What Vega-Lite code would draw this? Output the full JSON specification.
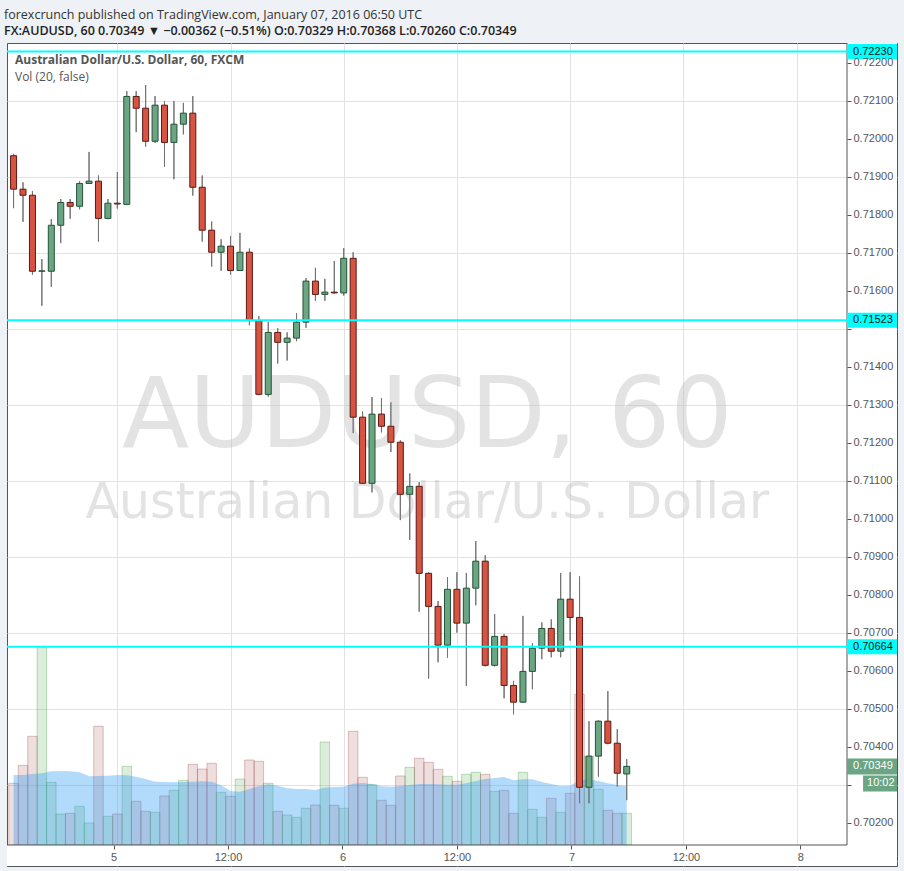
{
  "$schema": "https://vega.github.io/schema/vega-lite/v6.json",
  "width": 890,
  "height": 823,
  "autosize": {"type": "none"},
  "padding": {"left": 7, "top": 43, "right": 7, "bottom": 5},
  "background": "#eef1f5",
  "title": {
    "text": "forexcrunch published on TradingView.com, January 07, 2016 06:50 UTC",
    "subtitle": "FX:AUDUSD, 60  0.70349 ▼ −0.00362 (−0.51%)  O:0.70329  H:0.70368  L:0.70260  C:0.70349",
    "anchor": "start", "frame": "group", "offset": 5, "dx": -3,
    "font": "Open Sans", "fontSize": 12.5, "fontWeight": "normal", "color": "#333333",
    "subtitleFont": "Open Sans", "subtitleFontSize": 12.5, "subtitleFontWeight": 600, "subtitleColor": "#222222", "subtitlePadding": 4
  },
  "config": {"view": {"fill": "white", "stroke": "#555555", "strokeWidth": 1}},
  "datasets": {
    "candles": [
      {"t":"2016-01-04T13:00:00Z","o":0.71956,"h":0.71961,"l":0.71818,"c":0.71868,"v":61.7,"ma":70},
      {"t":"2016-01-04T14:00:00Z","o":0.71868,"h":0.71886,"l":0.71782,"c":0.71852,"v":79.7,"ma":70},
      {"t":"2016-01-04T15:00:00Z","o":0.71852,"h":0.71863,"l":0.71643,"c":0.71652,"v":108.7,"ma":71},
      {"t":"2016-01-04T16:00:00Z","o":0.71652,"h":0.71684,"l":0.71561,"c":0.71653,"v":197.3,"ma":71.7},
      {"t":"2016-01-04T17:00:00Z","o":0.71652,"h":0.71789,"l":0.71611,"c":0.71773,"v":62.7,"ma":73.7},
      {"t":"2016-01-04T18:00:00Z","o":0.71773,"h":0.71842,"l":0.71726,"c":0.71833,"v":31,"ma":74},
      {"t":"2016-01-04T19:00:00Z","o":0.71833,"h":0.71842,"l":0.7179,"c":0.71823,"v":31.7,"ma":73.7},
      {"t":"2016-01-04T20:00:00Z","o":0.71823,"h":0.71889,"l":0.71815,"c":0.71883,"v":38.7,"ma":72.7},
      {"t":"2016-01-04T21:00:00Z","o":0.71883,"h":0.71966,"l":0.71883,"c":0.71889,"v":22,"ma":68.7},
      {"t":"2016-01-04T22:00:00Z","o":0.71889,"h":0.71904,"l":0.7173,"c":0.71791,"v":118.7,"ma":69},
      {"t":"2016-01-04T23:00:00Z","o":0.71791,"h":0.71842,"l":0.71789,"c":0.71831,"v":28.7,"ma":69.3},
      {"t":"2016-01-05T00:00:00Z","o":0.71831,"h":0.71913,"l":0.71817,"c":0.71829,"v":31,"ma":70},
      {"t":"2016-01-05T01:00:00Z","o":0.71828,"h":0.72126,"l":0.71826,"c":0.72112,"v":78.7,"ma":69.7},
      {"t":"2016-01-05T02:00:00Z","o":0.72112,"h":0.72126,"l":0.72018,"c":0.72081,"v":43.7,"ma":68.3},
      {"t":"2016-01-05T03:00:00Z","o":0.72081,"h":0.72142,"l":0.7198,"c":0.71994,"v":33.7,"ma":66},
      {"t":"2016-01-05T04:00:00Z","o":0.71994,"h":0.72113,"l":0.7199,"c":0.72089,"v":32.7,"ma":63.3},
      {"t":"2016-01-05T05:00:00Z","o":0.72089,"h":0.721,"l":0.71927,"c":0.71991,"v":49,"ma":63},
      {"t":"2016-01-05T06:00:00Z","o":0.71991,"h":0.721,"l":0.71894,"c":0.72039,"v":54.7,"ma":62.7},
      {"t":"2016-01-05T07:00:00Z","o":0.72039,"h":0.72095,"l":0.72012,"c":0.72068,"v":64.7,"ma":63},
      {"t":"2016-01-05T08:00:00Z","o":0.72068,"h":0.72113,"l":0.71851,"c":0.71873,"v":80.7,"ma":63.3},
      {"t":"2016-01-05T09:00:00Z","o":0.71873,"h":0.71904,"l":0.7173,"c":0.7176,"v":76,"ma":63.7},
      {"t":"2016-01-05T10:00:00Z","o":0.7176,"h":0.71783,"l":0.71664,"c":0.71702,"v":81.7,"ma":63.3},
      {"t":"2016-01-05T11:00:00Z","o":0.71702,"h":0.71736,"l":0.71653,"c":0.71718,"v":52.7,"ma":59.7},
      {"t":"2016-01-05T12:00:00Z","o":0.71718,"h":0.71745,"l":0.71643,"c":0.71654,"v":48.7,"ma":54},
      {"t":"2016-01-05T13:00:00Z","o":0.71654,"h":0.71753,"l":0.71654,"c":0.71702,"v":66,"ma":53.3},
      {"t":"2016-01-05T14:00:00Z","o":0.71702,"h":0.71712,"l":0.7151,"c":0.71522,"v":85,"ma":56},
      {"t":"2016-01-05T15:00:00Z","o":0.71522,"h":0.71534,"l":0.71326,"c":0.71328,"v":83.7,"ma":58.7},
      {"t":"2016-01-05T16:00:00Z","o":0.71328,"h":0.71519,"l":0.71322,"c":0.71491,"v":61.7,"ma":60.7},
      {"t":"2016-01-05T17:00:00Z","o":0.71491,"h":0.71502,"l":0.71409,"c":0.71465,"v":33.7,"ma":59.3},
      {"t":"2016-01-05T18:00:00Z","o":0.71465,"h":0.71491,"l":0.71417,"c":0.71476,"v":30,"ma":56.7},
      {"t":"2016-01-05T19:00:00Z","o":0.71476,"h":0.71542,"l":0.71468,"c":0.71518,"v":27.7,"ma":56},
      {"t":"2016-01-05T20:00:00Z","o":0.71518,"h":0.71634,"l":0.71503,"c":0.71626,"v":36.7,"ma":56},
      {"t":"2016-01-05T21:00:00Z","o":0.71626,"h":0.71661,"l":0.71574,"c":0.71591,"v":40,"ma":55},
      {"t":"2016-01-05T22:00:00Z","o":0.71591,"h":0.71632,"l":0.71574,"c":0.71597,"v":103,"ma":57.5},
      {"t":"2016-01-05T23:00:00Z","o":0.71597,"h":0.71679,"l":0.71593,"c":0.71595,"v":39.7,"ma":58},
      {"t":"2016-01-06T00:00:00Z","o":0.71595,"h":0.71713,"l":0.71588,"c":0.71686,"v":36.7,"ma":58.3},
      {"t":"2016-01-06T01:00:00Z","o":0.71686,"h":0.71702,"l":0.71226,"c":0.71268,"v":113.7,"ma":61.3},
      {"t":"2016-01-06T02:00:00Z","o":0.71268,"h":0.71283,"l":0.71092,"c":0.71094,"v":67.7,"ma":62},
      {"t":"2016-01-06T03:00:00Z","o":0.71094,"h":0.71321,"l":0.7107,"c":0.71276,"v":60.3,"ma":61},
      {"t":"2016-01-06T04:00:00Z","o":0.71276,"h":0.71318,"l":0.71228,"c":0.71244,"v":44.7,"ma":58.7},
      {"t":"2016-01-06T05:00:00Z","o":0.71244,"h":0.71307,"l":0.71176,"c":0.71202,"v":39.7,"ma":58.3},
      {"t":"2016-01-06T06:00:00Z","o":0.71202,"h":0.71207,"l":0.70997,"c":0.71065,"v":69,"ma":59},
      {"t":"2016-01-06T07:00:00Z","o":0.71065,"h":0.7112,"l":0.70945,"c":0.71086,"v":77.7,"ma":60},
      {"t":"2016-01-06T08:00:00Z","o":0.71086,"h":0.71097,"l":0.70756,"c":0.70857,"v":86.7,"ma":61},
      {"t":"2016-01-06T09:00:00Z","o":0.70857,"h":0.7086,"l":0.7058,"c":0.7077,"v":82.7,"ma":61},
      {"t":"2016-01-06T10:00:00Z","o":0.7077,"h":0.70784,"l":0.70623,"c":0.70668,"v":75.7,"ma":60.7},
      {"t":"2016-01-06T11:00:00Z","o":0.70668,"h":0.70847,"l":0.70635,"c":0.70815,"v":68.7,"ma":60.3},
      {"t":"2016-01-06T12:00:00Z","o":0.70815,"h":0.7086,"l":0.70701,"c":0.70726,"v":63.7,"ma":60.3},
      {"t":"2016-01-06T13:00:00Z","o":0.70726,"h":0.70858,"l":0.70561,"c":0.70818,"v":70.7,"ma":61.7},
      {"t":"2016-01-06T14:00:00Z","o":0.70818,"h":0.70942,"l":0.70773,"c":0.70889,"v":72.7,"ma":64},
      {"t":"2016-01-06T15:00:00Z","o":0.70889,"h":0.70905,"l":0.70612,"c":0.70615,"v":70.7,"ma":66},
      {"t":"2016-01-06T16:00:00Z","o":0.70615,"h":0.7075,"l":0.70612,"c":0.70691,"v":53.7,"ma":67},
      {"t":"2016-01-06T17:00:00Z","o":0.70691,"h":0.70697,"l":0.70528,"c":0.70562,"v":54.7,"ma":68},
      {"t":"2016-01-06T18:00:00Z","o":0.70562,"h":0.70574,"l":0.70486,"c":0.70518,"v":31.7,"ma":64.7},
      {"t":"2016-01-06T19:00:00Z","o":0.70518,"h":0.70745,"l":0.70516,"c":0.70599,"v":72.7,"ma":65.7},
      {"t":"2016-01-06T20:00:00Z","o":0.70599,"h":0.70673,"l":0.70552,"c":0.7066,"v":35.7,"ma":65.7},
      {"t":"2016-01-06T21:00:00Z","o":0.7066,"h":0.70728,"l":0.70631,"c":0.70712,"v":27.7,"ma":63},
      {"t":"2016-01-06T22:00:00Z","o":0.70712,"h":0.70736,"l":0.70636,"c":0.70652,"v":46.7,"ma":61},
      {"t":"2016-01-06T23:00:00Z","o":0.70652,"h":0.70858,"l":0.70636,"c":0.70789,"v":32.7,"ma":59},
      {"t":"2016-01-07T00:00:00Z","o":0.70789,"h":0.7086,"l":0.7068,"c":0.70741,"v":51.7,"ma":59.3},
      {"t":"2016-01-07T01:00:00Z","o":0.70741,"h":0.70849,"l":0.70252,"c":0.70294,"v":150.7,"ma":64.7},
      {"t":"2016-01-07T02:00:00Z","o":0.70294,"h":0.70468,"l":0.70252,"c":0.70376,"v":88.7,"ma":65.7},
      {"t":"2016-01-07T03:00:00Z","o":0.70376,"h":0.7047,"l":0.70322,"c":0.70468,"v":55.7,"ma":64},
      {"t":"2016-01-07T04:00:00Z","o":0.70468,"h":0.70547,"l":0.70407,"c":0.7041,"v":34.7,"ma":61.7},
      {"t":"2016-01-07T05:00:00Z","o":0.7041,"h":0.70447,"l":0.70296,"c":0.70331,"v":31.7,"ma":60},
      {"t":"2016-01-07T06:00:00Z","o":0.70329,"h":0.70368,"l":0.7026,"c":0.70349,"v":31.7,"ma":59}
    ],
    "levels": [{"price": 0.7223}, {"price": 0.71523}, {"price": 0.70664}],
    "tag": [{"price": 0.70349, "countdown": "10:02"}]
  },
  "resolve": {"scale": {"x": "independent", "y": "independent"}},
  "layer": [
    {
      "data": {"name": "candles"},
      "layer": [
        {
          "mark": {"type": "bar", "width": 9.5, "strokeWidth": 1, "clip": true},
          "encoding": {
            "x": {"field": "t", "type": "temporal", "scale": {"type": "utc", "domain": [{"year":2016,"month":1,"date":4,"hours":12,"minutes":50,"utc":true},{"year":2016,"month":1,"date":8,"hours":10,"minutes":7,"seconds":24,"utc":true}]}, "axis": null},
            "y": {"field": "v", "type": "quantitative", "scale": {"domain": [-21, 802], "nice": false, "zero": false}, "axis": null},
            "y2": {"datum": 0},
            "fill": {"condition": {"test": "datum.c >= datum.o", "value": "#3c9a3c"}, "value": "#a04848"},
            "stroke": {"condition": {"test": "datum.c >= datum.o", "value": "#3c9a3c"}, "value": "#a04848"},
            "fillOpacity": {"value": 0.18},
            "strokeOpacity": {"value": 0.32}
          }
        },
        {
          "mark": {"type": "area", "color": "#2196f3", "opacity": 0.35, "clip": true},
          "encoding": {
            "x": {"field": "t", "type": "temporal", "scale": {"type": "utc", "domain": [{"year":2016,"month":1,"date":4,"hours":12,"minutes":50,"utc":true},{"year":2016,"month":1,"date":8,"hours":10,"minutes":7,"seconds":24,"utc":true}]}, "axis": null},
            "y": {"field": "ma", "type": "quantitative", "scale": {"domain": [-21, 802], "nice": false, "zero": false}, "axis": null},
            "y2": {"datum": 0}
          }
        }
      ]
    },
    {
      "data": {"name": "candles"},
      "layer": [
        {
          "mark": {"type": "rule", "color": "#737375", "strokeWidth": 1, "clip": true},
          "encoding": {
            "x": {"field": "t", "type": "temporal", "scale": {"type": "utc", "domain": [{"year":2016,"month":1,"date":4,"hours":12,"minutes":50,"utc":true},{"year":2016,"month":1,"date":8,"hours":10,"minutes":7,"seconds":24,"utc":true}]},
              "axis": {"orient": "top", "grid": true, "gridColor": "#e2e2e2", "labels": false, "ticks": false, "domain": false, "title": null, "values": [{"year":2016,"month":1,"date":5,"hours":0,"utc":true},{"year":2016,"month":1,"date":5,"hours":12,"utc":true},{"year":2016,"month":1,"date":6,"hours":0,"utc":true},{"year":2016,"month":1,"date":6,"hours":12,"utc":true},{"year":2016,"month":1,"date":7,"hours":0,"utc":true},{"year":2016,"month":1,"date":7,"hours":12,"utc":true},{"year":2016,"month":1,"date":8,"hours":0,"utc":true}], "zindex": 0}},
            "y": {"field": "l", "type": "quantitative", "scale": {"domain": [0.7008684, 0.7225263], "nice": false, "zero": false},
              "axis": {"orient": "left", "grid": true, "gridColor": "#e2e2e2", "labels": false, "ticks": false, "domain": false, "title": null, "values": [0.701,0.702,0.703,0.704,0.705,0.706,0.707,0.708,0.709,0.71,0.711,0.712,0.713,0.714,0.715,0.716,0.717,0.718,0.719,0.72,0.721,0.722], "zindex": 0}},
            "y2": {"field": "h"}
          }
        },
        {
          "data": {"values": [{"label": "AUDUSD, 60"}]},
          "mark": {"type": "text", "font": "DejaVu Sans", "fontSize": 98, "fill": "#bbbbbb", "opacity": 0.4, "align": "center", "baseline": "alphabetic"},
          "encoding": {
            "x": {"datum": {"year":2016,"month":1,"date":6,"hours":8,"minutes":52,"utc":true}, "type": "temporal", "scale": {"type": "utc", "domain": [{"year":2016,"month":1,"date":4,"hours":12,"minutes":50,"utc":true},{"year":2016,"month":1,"date":8,"hours":10,"minutes":7,"seconds":24,"utc":true}]}},
            "y": {"datum": 0.711895, "type": "quantitative", "scale": {"domain": [0.7008684, 0.7225263], "nice": false, "zero": false}},
            "text": {"field": "label"}
          }
        },
        {
          "data": {"values": [{"label": "Australian Dollar/U.S. Dollar"}]},
          "mark": {"type": "text", "font": "DejaVu Sans", "fontSize": 49, "fill": "#bbbbbb", "opacity": 0.4, "align": "center", "baseline": "alphabetic"},
          "encoding": {
            "x": {"datum": {"year":2016,"month":1,"date":6,"hours":8,"minutes":52,"utc":true}, "type": "temporal", "scale": {"type": "utc", "domain": [{"year":2016,"month":1,"date":4,"hours":12,"minutes":50,"utc":true},{"year":2016,"month":1,"date":8,"hours":10,"minutes":7,"seconds":24,"utc":true}]}},
            "y": {"datum": 0.710026, "type": "quantitative", "scale": {"domain": [0.7008684, 0.7225263], "nice": false, "zero": false}},
            "text": {"field": "label"}
          }
        },
        {
          "mark": {"type": "rule", "color": "#737375", "strokeWidth": 1, "clip": true},
          "encoding": {
            "x": {"field": "t", "type": "temporal", "scale": {"type": "utc", "domain": [{"year":2016,"month":1,"date":4,"hours":12,"minutes":50,"utc":true},{"year":2016,"month":1,"date":8,"hours":10,"minutes":7,"seconds":24,"utc":true}]}},
            "y": {"field": "l", "type": "quantitative", "scale": {"domain": [0.7008684, 0.7225263], "nice": false, "zero": false}},
            "y2": {"field": "h"}
          }
        },
        {
          "mark": {"type": "bar", "width": 6, "strokeWidth": 1, "clip": true},
          "encoding": {
            "x": {"field": "t", "type": "temporal", "scale": {"type": "utc", "domain": [{"year":2016,"month":1,"date":4,"hours":12,"minutes":50,"utc":true},{"year":2016,"month":1,"date":8,"hours":10,"minutes":7,"seconds":24,"utc":true}]}},
            "y": {"field": "o", "type": "quantitative", "scale": {"domain": [0.7008684, 0.7225263], "nice": false, "zero": false}},
            "y2": {"field": "c"},
            "fill": {"condition": {"test": "datum.c >= datum.o", "value": "#6ba583"}, "value": "#d75442"},
            "stroke": {"condition": {"test": "datum.c >= datum.o", "value": "#225437"}, "value": "#5b1a13"}
          }
        }
      ]
    },
    {
      "layer": [
        {
          "data": {"name": "candles"},
          "mark": {"type": "rule", "opacity": 0},
          "encoding": {
            "x": {"field": "t", "type": "temporal", "scale": {"type": "utc", "domain": [{"year":2016,"month":1,"date":4,"hours":12,"minutes":50,"utc":true},{"year":2016,"month":1,"date":8,"hours":10,"minutes":7,"seconds":24,"utc":true}]},
              "axis": {"orient": "bottom", "offset": -21, "grid": false, "domain": false, "ticks": true, "tickSize": 4, "tickColor": "#555555", "labelPadding": 2, "labelColor": "#555555", "labelFont": "Liberation Sans", "labelFontSize": 11, "title": null, "values": [{"year":2016,"month":1,"date":5,"hours":0,"utc":true},{"year":2016,"month":1,"date":5,"hours":12,"utc":true},{"year":2016,"month":1,"date":6,"hours":0,"utc":true},{"year":2016,"month":1,"date":6,"hours":12,"utc":true},{"year":2016,"month":1,"date":7,"hours":0,"utc":true},{"year":2016,"month":1,"date":7,"hours":12,"utc":true},{"year":2016,"month":1,"date":8,"hours":0,"utc":true}], "labelExpr": "utchours(datum.value) == 0 ? utcFormat(datum.value, '%-d') : utcFormat(datum.value, '%H:%M')", "labelFlush": false, "labelOverlap": false, "zindex": 1}},
            "y": {"field": "l", "type": "quantitative", "scale": {"domain": [0.7008684, 0.7225263], "nice": false, "zero": false},
              "axis": {"orient": "right", "offset": -50, "grid": false, "domain": false, "ticks": true, "tickSize": 4, "tickColor": "#555555", "labelPadding": 2, "labelColor": "#555555", "labelFont": "Liberation Sans", "labelFontSize": 11, "title": null, "values": [0.702,0.703,0.704,0.705,0.706,0.707,0.708,0.709,0.71,0.711,0.712,0.713,0.714,0.715,0.716,0.717,0.718,0.719,0.72,0.721,0.722], "labelExpr": "(abs(datum.value - 0.715) < 0.00001 || abs(datum.value - 0.703) < 0.00001) ? '' : format(datum.value, '.5f')", "labelOverlap": false, "labelFlush": false, "zindex": 1}},
            "y2": {"field": "h"}
          }
        },
        {
          "data": {"values": [{}]},
          "mark": {"type": "rect", "color": "white"},
          "encoding": {
            "x": {"datum": {"year":2016,"month":1,"date":8,"hours":4,"minutes":53,"utc":true}, "type": "temporal", "scale": {"type": "utc", "domain": [{"year":2016,"month":1,"date":4,"hours":12,"minutes":50,"utc":true},{"year":2016,"month":1,"date":8,"hours":10,"minutes":7,"seconds":24,"utc":true}]}},
            "x2": {"datum": {"year":2016,"month":1,"date":8,"hours":10,"minutes":7,"seconds":24,"utc":true}},
            "y": {"datum": 0.7225263, "type": "quantitative", "scale": {"domain": [0.7008684, 0.7225263], "nice": false, "zero": false}},
            "y2": {"datum": 0.7008684}
          }
        },
        {
          "data": {"values": [{}]},
          "mark": {"type": "rect", "color": "white"},
          "encoding": {
            "x": {"datum": {"year":2016,"month":1,"date":4,"hours":12,"minutes":50,"utc":true}, "type": "temporal", "scale": {"type": "utc", "domain": [{"year":2016,"month":1,"date":4,"hours":12,"minutes":50,"utc":true},{"year":2016,"month":1,"date":8,"hours":10,"minutes":7,"seconds":24,"utc":true}]}},
            "x2": {"datum": {"year":2016,"month":1,"date":8,"hours":10,"minutes":7,"seconds":24,"utc":true}},
            "y": {"datum": 0.701421, "type": "quantitative", "scale": {"domain": [0.7008684, 0.7225263], "nice": false, "zero": false}},
            "y2": {"datum": 0.7008684}
          }
        },
        {
          "data": {"values": [{}]},
          "mark": {"type": "rule", "color": "#555555", "strokeWidth": 1},
          "encoding": {
            "x": {"datum": {"year":2016,"month":1,"date":4,"hours":12,"minutes":50,"utc":true}, "type": "temporal", "scale": {"type": "utc", "domain": [{"year":2016,"month":1,"date":4,"hours":12,"minutes":50,"utc":true},{"year":2016,"month":1,"date":8,"hours":10,"minutes":7,"seconds":24,"utc":true}]}},
            "x2": {"datum": {"year":2016,"month":1,"date":8,"hours":4,"minutes":53,"utc":true}},
            "y": {"datum": 0.701421, "type": "quantitative", "scale": {"domain": [0.7008684, 0.7225263], "nice": false, "zero": false}}
          }
        },
        {
          "data": {"values": [{}]},
          "mark": {"type": "rule", "color": "#555555", "strokeWidth": 1},
          "encoding": {
            "x": {"datum": {"year":2016,"month":1,"date":8,"hours":4,"minutes":53,"utc":true}, "type": "temporal", "scale": {"type": "utc", "domain": [{"year":2016,"month":1,"date":4,"hours":12,"minutes":50,"utc":true},{"year":2016,"month":1,"date":8,"hours":10,"minutes":7,"seconds":24,"utc":true}]}},
            "y": {"datum": 0.701421, "type": "quantitative", "scale": {"domain": [0.7008684, 0.7225263], "nice": false, "zero": false}},
            "y2": {"datum": 0.7225263}
          }
        },
        {
          "data": {"name": "levels"},
          "mark": {"type": "rule", "color": "#00ffff", "strokeWidth": 2},
          "encoding": {
            "x": {"datum": {"year":2016,"month":1,"date":4,"hours":12,"minutes":50,"utc":true}, "type": "temporal", "scale": {"type": "utc", "domain": [{"year":2016,"month":1,"date":4,"hours":12,"minutes":50,"utc":true},{"year":2016,"month":1,"date":8,"hours":10,"minutes":7,"seconds":24,"utc":true}]}},
            "x2": {"datum": {"year":2016,"month":1,"date":8,"hours":4,"minutes":53,"utc":true}},
            "y": {"field": "price", "type": "quantitative", "scale": {"domain": [0.7008684, 0.7225263], "nice": false, "zero": false}}
          }
        },
        {
          "data": {"name": "levels"},
          "mark": {"type": "rule", "color": "#00ffff", "strokeWidth": 15},
          "encoding": {
            "x": {"datum": {"year":2016,"month":1,"date":8,"hours":4,"minutes":53,"utc":true}, "type": "temporal", "scale": {"type": "utc", "domain": [{"year":2016,"month":1,"date":4,"hours":12,"minutes":50,"utc":true},{"year":2016,"month":1,"date":8,"hours":10,"minutes":7,"seconds":24,"utc":true}]}},
            "x2": {"datum": {"year":2016,"month":1,"date":8,"hours":10,"minutes":7,"seconds":24,"utc":true}},
            "y": {"field": "price", "type": "quantitative", "scale": {"domain": [0.7008684, 0.7225263], "nice": false, "zero": false}}
          }
        },
        {
          "data": {"name": "levels"},
          "mark": {"type": "text", "align": "left", "baseline": "middle", "dx": 6, "font": "Liberation Sans", "fontSize": 11, "color": "#111111"},
          "encoding": {
            "x": {"datum": {"year":2016,"month":1,"date":8,"hours":4,"minutes":53,"utc":true}, "type": "temporal", "scale": {"type": "utc", "domain": [{"year":2016,"month":1,"date":4,"hours":12,"minutes":50,"utc":true},{"year":2016,"month":1,"date":8,"hours":10,"minutes":7,"seconds":24,"utc":true}]}},
            "y": {"field": "price", "type": "quantitative", "scale": {"domain": [0.7008684, 0.7225263], "nice": false, "zero": false}},
            "text": {"field": "price", "type": "quantitative", "format": ".5f"}
          }
        },
        {
          "data": {"name": "tag"},
          "mark": {"type": "rule", "color": "#6ba583", "strokeWidth": 16},
          "encoding": {
            "x": {"datum": {"year":2016,"month":1,"date":8,"hours":4,"minutes":53,"utc":true}, "type": "temporal", "scale": {"type": "utc", "domain": [{"year":2016,"month":1,"date":4,"hours":12,"minutes":50,"utc":true},{"year":2016,"month":1,"date":8,"hours":10,"minutes":7,"seconds":24,"utc":true}]}},
            "x2": {"datum": {"year":2016,"month":1,"date":8,"hours":10,"minutes":7,"seconds":24,"utc":true}},
            "y": {"field": "price", "type": "quantitative", "scale": {"domain": [0.7008684, 0.7225263], "nice": false, "zero": false}}
          }
        },
        {
          "data": {"name": "tag"},
          "mark": {"type": "text", "align": "left", "baseline": "middle", "dx": 6, "font": "Liberation Sans", "fontSize": 11, "color": "white"},
          "encoding": {
            "x": {"datum": {"year":2016,"month":1,"date":8,"hours":4,"minutes":53,"utc":true}, "type": "temporal", "scale": {"type": "utc", "domain": [{"year":2016,"month":1,"date":4,"hours":12,"minutes":50,"utc":true},{"year":2016,"month":1,"date":8,"hours":10,"minutes":7,"seconds":24,"utc":true}]}},
            "y": {"field": "price", "type": "quantitative", "scale": {"domain": [0.7008684, 0.7225263], "nice": false, "zero": false}},
            "text": {"field": "price", "type": "quantitative", "format": ".5f"}
          }
        },
        {
          "data": {"name": "tag"},
          "mark": {"type": "rule", "color": "#6ba583", "strokeWidth": 16, "yOffset": 17},
          "encoding": {
            "x": {"datum": {"year":2016,"month":1,"date":8,"hours":6,"minutes":34,"utc":true}, "type": "temporal", "scale": {"type": "utc", "domain": [{"year":2016,"month":1,"date":4,"hours":12,"minutes":50,"utc":true},{"year":2016,"month":1,"date":8,"hours":10,"minutes":7,"seconds":24,"utc":true}]}},
            "x2": {"datum": {"year":2016,"month":1,"date":8,"hours":10,"minutes":7,"seconds":24,"utc":true}},
            "y": {"field": "price", "type": "quantitative", "scale": {"domain": [0.7008684, 0.7225263], "nice": false, "zero": false}}
          }
        },
        {
          "data": {"name": "tag"},
          "mark": {"type": "text", "align": "left", "baseline": "middle", "dx": 4, "yOffset": 17, "font": "Liberation Sans", "fontSize": 11, "color": "white"},
          "encoding": {
            "x": {"datum": {"year":2016,"month":1,"date":8,"hours":6,"minutes":34,"utc":true}, "type": "temporal", "scale": {"type": "utc", "domain": [{"year":2016,"month":1,"date":4,"hours":12,"minutes":50,"utc":true},{"year":2016,"month":1,"date":8,"hours":10,"minutes":7,"seconds":24,"utc":true}]}},
            "y": {"field": "price", "type": "quantitative", "scale": {"domain": [0.7008684, 0.7225263], "nice": false, "zero": false}},
            "text": {"field": "countdown"}
          }
        },
        {
          "data": {"values": [{"label": "Australian Dollar/U.S. Dollar, 60, FXCM"}]},
          "mark": {"type": "text", "align": "left", "baseline": "alphabetic", "dx": 8, "dy": 21, "font": "Open Sans", "fontSize": 12, "fontWeight": "bold", "color": "#555555"},
          "encoding": {
            "x": {"datum": {"year":2016,"month":1,"date":4,"hours":12,"minutes":50,"utc":true}, "type": "temporal", "scale": {"type": "utc", "domain": [{"year":2016,"month":1,"date":4,"hours":12,"minutes":50,"utc":true},{"year":2016,"month":1,"date":8,"hours":10,"minutes":7,"seconds":24,"utc":true}]}},
            "y": {"datum": 0.7225263, "type": "quantitative", "scale": {"domain": [0.7008684, 0.7225263], "nice": false, "zero": false}},
            "text": {"field": "label"}
          }
        },
        {
          "data": {"values": [{"label": "Vol (20, false)"}]},
          "mark": {"type": "text", "align": "left", "baseline": "alphabetic", "dx": 8, "dy": 38, "font": "Open Sans", "fontSize": 12, "color": "#555555"},
          "encoding": {
            "x": {"datum": {"year":2016,"month":1,"date":4,"hours":12,"minutes":50,"utc":true}, "type": "temporal", "scale": {"type": "utc", "domain": [{"year":2016,"month":1,"date":4,"hours":12,"minutes":50,"utc":true},{"year":2016,"month":1,"date":8,"hours":10,"minutes":7,"seconds":24,"utc":true}]}},
            "y": {"datum": 0.7225263, "type": "quantitative", "scale": {"domain": [0.7008684, 0.7225263], "nice": false, "zero": false}},
            "text": {"field": "label"}
          }
        }
      ]
    }
  ]
}
